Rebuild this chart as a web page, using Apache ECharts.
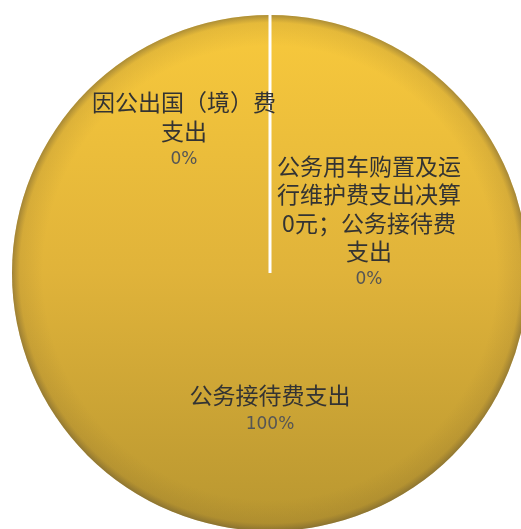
<!DOCTYPE html>
<html>
<head>
<meta charset="utf-8">
<script src="https://cdn.jsdelivr.net/npm/echarts@6/dist/echarts.min.js"></script>
<style>
html,body{margin:0;padding:0;background:#fff;}
#chart{width:521px;height:529px;}
</style>
</head>
<body>
<div id="chart"></div>
<script>
var categories = ['因公出国（境）费支出', '公务用车购置及运行维护费支出决算0元；公务接待费支出', '公务接待费支出'];
var values = [0, 0, 1];

// label offsets (layout only)
var labelOffsets = [[-86, -10], [99, 82], [0, 5]];

var CENTER = [270, 273];
var RADIUS = 258;

function wrap(name, n) {
  var out = [];
  for (var i = 0; i < name.length; i += n) out.push(name.slice(i, i + n));
  return out;
}

var chart = echarts.init(document.getElementById('chart'));
var data = categories.map(function (c, i) {
  return { name: c, value: values[i] };
});

chart.setOption({
  animation: false,
  backgroundColor: '#ffffff',
  polar: { center: CENTER, radius: RADIUS },
  angleAxis: {
    type: 'value', min: 0, max: 100, interval: 100, startAngle: 90, clockwise: true,
    axisLine: { show: false }, axisTick: { show: false }, axisLabel: { show: false },
    splitLine: { show: true, lineStyle: { color: '#ffffff', width: 3 } },
    z: 5
  },
  radiusAxis: {
    type: 'value', min: 0, max: 1,
    axisLine: { show: false }, axisTick: { show: false }, axisLabel: { show: false },
    splitLine: { show: false }
  },
  series: [
    {
      type: 'pie',
      center: CENTER,
      radius: RADIUS,
      startAngle: 90,
      clockwise: true,
      avoidLabelOverlap: false,
      silent: true,
      itemStyle: {
        borderWidth: 0,
        color: {
          type: 'linear', x: 0, y: 0, x2: 0, y2: 1,
          colorStops: [
            { offset: 0, color: '#F8C93C' },
            { offset: 0.5, color: '#E0B33A' },
            { offset: 1, color: '#B89630' }
          ]
        }
      },
      label: { show: false },
      labelLine: { show: false },
      data: data,
      z: 2
    },
    {
      type: 'pie',
      center: CENTER,
      radius: RADIUS,
      startAngle: 90,
      silent: true,
      label: { show: false },
      labelLine: { show: false },
      itemStyle: {
        borderWidth: 0,
        color: {
          type: 'radial', x: 0.5, y: 0.5, r: 0.5,
          colorStops: [
            { offset: 0, color: 'rgba(100,80,40,0)' },
            { offset: 0.88, color: 'rgba(100,80,40,0)' },
            { offset: 0.97, color: 'rgba(100,80,40,0.12)' },
            { offset: 1, color: 'rgba(80,70,50,0.45)' }
          ]
        }
      },
      data: [{ name: 'shade', value: 1 }],
      z: 3
    },
    {
      type: 'pie',
      center: CENTER,
      radius: RADIUS,
      startAngle: 90,
      clockwise: true,
      avoidLabelOverlap: false,
      silent: true,
      itemStyle: { color: 'rgba(0,0,0,0)', borderWidth: 0 },
      label: {
        show: true,
        position: 'inside',
        align: 'center',
        formatter: function (p) {
          var lines = wrap(p.name, 8).map(function (l) { return '{n|' + l + '}'; });
          return lines.join('\n') + '\n{p|' + Math.round(p.percent) + '%}';
        },
        rich: {
          n: { fontFamily: 'Noto Sans CJK SC', fontSize: 23, color: '#333333', lineHeight: 28.5 },
          p: { fontFamily: 'DejaVu Sans', fontSize: 17, color: '#555555', lineHeight: 28.5 }
        }
      },
      labelLine: { show: false },
      labelLayout: function (params) {
        var o = labelOffsets[params.dataIndex];
        return { dx: o[0], dy: o[1] };
      },
      data: data,
      z: 6
    }
  ]
});
</script>
</body>
</html>
